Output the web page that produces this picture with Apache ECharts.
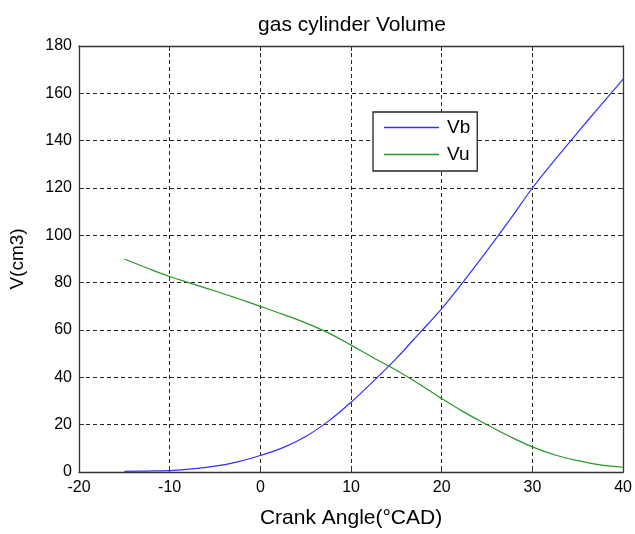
<!DOCTYPE html>
<html><head><meta charset="utf-8">
<script src="https://cdn.jsdelivr.net/npm/echarts@6/dist/echarts.min.js"></script>
<style>html,body{margin:0;padding:0;background:#fff}#c{width:635px;height:534px}</style>
</head><body><div id="c"></div>
<script>
const crankAngle = [-15,-12.5,-10,-7.5,-5,-2.5,0,2.5,5,7.5,10,12.5,15,17.5,20,22.5,25,27.5,30,32.5,35,37.5,40];
const Vb = [0.3,0.4,0.6,1.3,2.5,4.3,7,10.3,15,21.5,29.5,38.5,48,58.5,69,81,93.5,106.5,120,132,143.5,154.8,166];
const Vu = [90,86.2,82.6,79.5,76.5,73.3,70,66.6,63,58.8,53.6,48.2,43,37.2,31,25.2,20,15,10.6,7.2,4.8,3,2];
const xTicks = [-20,-10,0,10,20,30,40];
const yTicks = [0,20,40,60,80,100,120,140,160,180];

const font = '"Liberation Sans", Arial, sans-serif';
const chart = echarts.init(document.getElementById('c'), null, {renderer:'canvas'});
const pairs = (ys) => crankAngle.map((x,i)=>[x, ys[i]]);
const gridLine = {show:true, lineStyle:{color:'#222', type:[4,3], width:1}};
const frame = {show:true, onZero:false, lineStyle:{color:'#333', width:1.3}};
const baseX = {
  type:'value', min:xTicks[0], max:xTicks[xTicks.length-1], interval:10,
  axisLine:frame,
  axisTick:{show:true, inside:true, length:5, lineStyle:{color:'#333'}},
};
const baseY = {
  type:'value', min:yTicks[0], max:yTicks[yTicks.length-1], interval:20,
  axisLine:frame,
  axisTick:{show:true, inside:true, length:5, lineStyle:{color:'#333'}},
};
chart.setOption({
  backgroundColor:'#fff',
  animation:false,
  title:{text:'gas cylinder Volume', left:347, textAlign:'center', top:10,
    textStyle:{fontFamily:font, fontSize:21, fontWeight:'normal', color:'#000'}},
  grid:{left:78, right:11, top:46, bottom:58},
  legend:{
    orient:'vertical', left:373, top:112,
    backgroundColor:'#fff', borderColor:'#222', borderWidth:1.3,
    padding:[6,7,7,11], itemGap:8, itemWidth:55, itemHeight:18,
    icon:'path://M0,8.3 L55,8.3 L55,9.9 L0,9.9 Z',
    textStyle:{fontFamily:font, fontSize:19, color:'#000', padding:[0,0,0,3]},
    data:['Vb','Vu']
  },
  xAxis:[
    Object.assign({}, baseX, {position:'bottom', name:'Crank Angle(°CAD)', nameLocation:'middle', nameGap:36,
      nameTextStyle:{fontFamily:font, fontSize:21, color:'#000'},
      axisLabel:{show:true, margin:8, fontFamily:font, fontSize:16, color:'#000'},
      splitLine:gridLine}),
    Object.assign({}, baseX, {position:'top', axisLabel:{show:false}, splitLine:{show:false}})
  ],
  yAxis:[
    Object.assign({}, baseY, {position:'left', name:'V(cm3)', nameLocation:'middle', nameGap:52,
      nameTextStyle:{fontFamily:font, fontSize:19, color:'#000'},
      axisLabel:{show:true, margin:7, fontFamily:font, fontSize:16, color:'#000'},
      splitLine:gridLine}),
    Object.assign({}, baseY, {position:'right', axisLabel:{show:false}, splitLine:{show:false}})
  ],
  series:[
    {name:'Vb', type:'line', data:pairs(Vb), smooth:0.4, showSymbol:false, symbol:'none',
      lineStyle:{color:'#3030ff', width:1.2}, itemStyle:{color:'#3030ff'}},
    {name:'Vu', type:'line', data:pairs(Vu), smooth:0.4, showSymbol:false, symbol:'none',
      lineStyle:{color:'#229a22', width:1.2}, itemStyle:{color:'#229a22'}}
  ]
});
</script></body></html>
